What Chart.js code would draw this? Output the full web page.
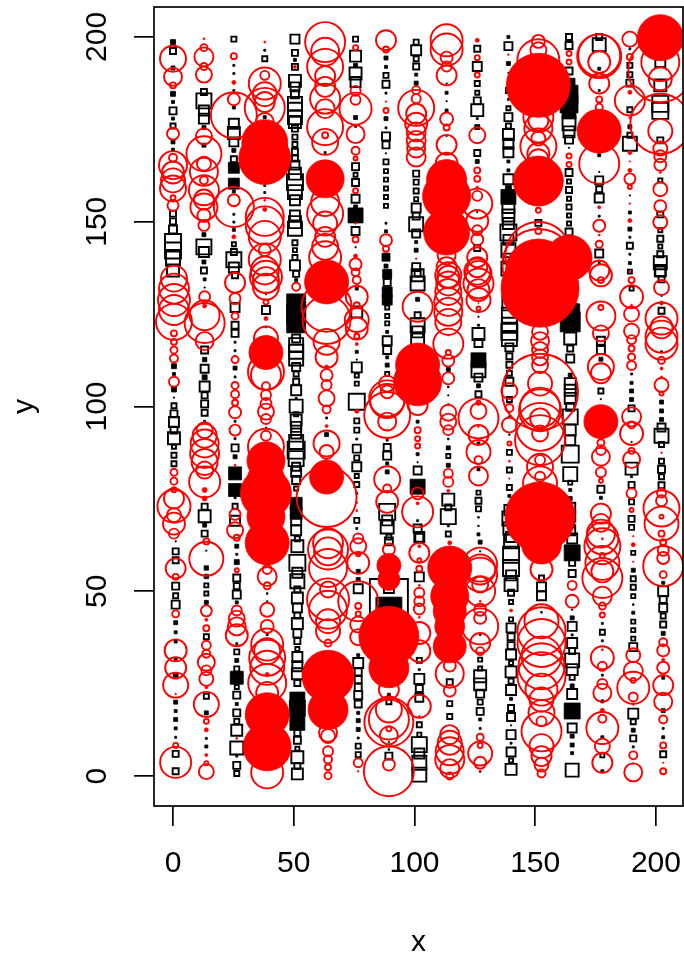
<!DOCTYPE html>
<html>
<head>
<meta charset="utf-8">
<title>x y bubbles</title>
<script src="https://cdn.jsdelivr.net/npm/chart.js@4"></script>
<style>
    html, body { margin: 0; padding: 0; background: #fff; }
    canvas { display: block; }
</style>
</head>
<body>
<canvas id="chart" width="684" height="956"></canvas>
<script>
const xTicks = [0, 50, 100, 150, 200];
const yTicks = [0, 50, 100, 150, 200];

// each column drifts a little in x from top to bottom of the plot
const columnXTop = [0, 12.8, 25.2, 38, 50.5, 63, 75.6, 88.2, 100.7, 113.3, 126, 138.9, 151.3, 164, 176.5, 189.2, 201.8];
const columnXMid = [0.4, 13.1, 25.7, 38.5, 51, 63.6, 76.1, 88.7, 101.3, 114, 126.5, 139.3, 152, 164.5, 177.2, 189.9, 202.3];
const columnXLow = [1.1, 13.8, 26.4, 39, 51.5, 64.2, 76.7, 89.4, 102, 114.6, 127.2, 140, 152.6, 165.3, 177.8, 190.6, 203];

// one row per column, read as y, size, y, size ...
const blocks = [
    [198.6,2.5,191.6,2,184.6,2.5,182.4,1.5,177.9,1.5,171.6,2,169.5,1.5,110.9,2.5,108.8,1.5,104.6,2.5,102.4,.6,63.5,.6,41.5,2,38.9,1.5,36.4,1.5,31.7,1.5,27,2.5,20,2,17.6,1.5,15.3,2,12.9,1.5,10.5,1],
    [175.5,2,170.7,2,146.5,2,139.1,2,134.4,1.5,132.2,.6,112.7,2.2,107.9,2.5,96,1,67.9,2,61,.6,56.3,2.2,54,2.2,47,2,17.1,2,10.2,1,8,1.5],
    [192.3,1,190.1,1,185.5,1,180.9,1.5,169.3,2,164.6,5.5,160.3,5.5,158.2,1.5,152,1,149.9,1,147.8,1.5,117.4,1,115.1,1,110.4,2,108,1,96,1,91.3,1,86.4,2,81.9,6.5,77.4,6.5,75.3,1,62.2,2,60,1,57.9,2.5,47,1.5,35.8,1,31.3,2,26.6,6.5,19.5,1.5,5.4,1],
    [196.4,1,178.3,1.5,159.8,1,157.9,1,130.4,.6,121.4,.6,94.3,.6,49.4,.8,47.3,.6,38.3,1],
    [193.8,1.5,134.2,1.5,127.9,9.5,125.2,9.5,122.5,9.5,102.2,1,73.8,6,71.1,6,20.7,7.5,18.4,8,14.4,7.5],
    [168.7,1,92.4,2,96.9,1],
    [192.3,2,178.2,2,175.8,1,154,2,151.7,7.5,143.1,.6,131.9,1.5,114.8,1.5,112.7,.6,91.2,1,76.5,1,74,.6,67,1,53.2,2,55.4,2,32.7,1.5,17.1,1.5,15,2,12.6,2,10.3,1],
    [194.3,2,191.9,1.5,184.8,1,177.9,2,175.4,1,168.5,.6,149.6,1,147.4,1.5,140.4,4,138,2,135.9,4.5,135.5,4,131,5,128.8,5,120.2,1.5,113.3,1.5,111.2,2,90.9,1,84.6,1.5,82.3,2,44.9,13,22,1.5,9.2,.6,7.2,.8],
    [189.8,1.5,187.5,2,144.5,1.5,142.3,2,129,2,95.9,1.5,87.1,1.5,84.9,.6,78.3,7.5,69.1,1,28.8,1],
    [187.4,.6,184.9,1.5,182.6,.6,180.1,1.5,173.2,.6,168.4,1,110,2,105.3,.8,103,.6,100.6,.6,91.2,.8,88.8,2,84.1,2,67.7,1],
    [175.6,2,177.9,1,166.3,2,152.6,.6,124.3,.6,122,1,112.5,7.5,105.6,2,90,1.5,83,1.5,70,.8,67.7,.7,65.4,1.5,63.3,2,60.8,.6,38.2,.8,15.3,1.5,12.9,1,1.2,.8],
    [200,1.5,192.8,2,190.3,.6,183.1,1,166.3,1.5,163.9,1.5,159,3,156.7,7.5,97.2,1,92.4,.7,75.8,1.5,20.9,1.5,13.7,.6,8.9,1],
    [44.3,.8],
    [170,.6,122.9,10,126,7,125.2,9.5,108.5,2,77.4,1.5,75.1,2,187.2,6,184.5,9,181.9,9,179.7,7,60.4,8,45,.6,42.8,2,38.2,1,24.4,2,17.6,8,10.8,2,8.4,2,6.2,1.5],
    [191.4,1.5,185.5,1,168,1.5,163.5,.6,151.5,1,138.9,1,112.8,2,102,.6,75.3,1.5,41.3,1,36.6,1,27.3,1,20.2,1.5,10.5,1.5,1.3,1.5],
    [196.8,1,175.7,2,148,2,145.8,1,141.2,1,138.8,1.5,157.1,.6,108.8,1,106.4,1.5,104.2,2,101.9,2,90.4,.6,81,1,55.7,2,46.4,.8,44.2,1.5,12.4,2,7.9,1,3.4,.6,152.5,1.5],
    [130.1,1,114.8,1,101.2,2,98.8,2,96.5,2,52.3,1.5,38.6,2,26.6,1.5,17.7,2,12.9,1,10.5,1.5]
];

const boxes = [
    [196.2,3,180,3.5,175.9,2.5,152.2,3,150.1,3,147.9,4,144.5,8,142.2,8,140,7,136.8,6,100.2,2.5,98,3.5,95.8,5,93.6,3.5,91.4,6,89.1,2,86.8,2.5,84.5,2.5,60.8,3,58.4,3,51.4,3.5,48.8,2.5,46.4,4,6,3,1.3,3],
    [185.1,3,182.7,7.5,180.1,5,177.9,5,143.2,7.5,141.8,5,136.8,3,115.3,3.5,110.2,4,105.4,5,103,3,100.7,3.5,98.3,3,72.9,3,70.3,6,65.6,3,51.6,2,49.4,2,37.7,2.5,21.6,2.5],
    [199.4,2.5,176.5,5,174,6,171.6,4.5,166.9,3,143.9,2,141.8,3,139.7,7.5,137.6,5,135.5,3,126.8,4.5,122,3.5,119.8,3.5,88.8,3.5,73,2.5,69.1,5,53.6,3.5,51.4,3,49.1,4,33.6,2.5,29,2.5,24.1,2,21.9,3.5,17.1,3.5,14.8,2.5,12.4,5.5,7.6,6.5,2.9,3.5,.7,2.5],
    [194.1,2.5,126.1,4],
    [199.4,4.5,195.7,3,191.9,3,188.1,6,186.5,4.5,184.5,4,181.9,7,180.3,7,178.3,7,177,6,175.2,3,172.9,2.5,170.9,2.5,168.9,3,167.1,3,165.3,4.5,163,6,160.7,8,158,7,155.8,5,151.7,5,149.9,6,148.1,7,144.3,2.5,142.3,2,140.3,2.5,138.2,5,135.9,3,118.4,4,116.6,7,114.8,7,113,7,110.7,4,108.8,2.5,106.7,3,104.4,5,100.1,6.5,97.9,2,96.3,5.5,94.5,5,92.7,5,90.4,7,88.2,8.5,85.9,7.5,83.7,4,82.3,5,80.1,4,77.8,2,69.2,5,66.5,5,64.2,2.5,62.2,6,57.7,8,55,5,52.7,7,50.5,3,48.2,5.5,45.5,4.5,43.4,3,41.3,5.5,38.6,4,36.5,3,34.4,2,32.2,5,29.7,5,27.7,5.5,25.2,3,11.7,3,9.7,3.5,7.4,2,5.1,6,2.7,3,.6,5.5],
    [],
    [199.4,2.5,194.8,5.5,190.1,6,187.8,5,164.9,3.5,162.7,2,160.6,3.5,156.2,4,147.5,4,125.6,5.5,110.6,5,108.4,2,106.2,2,101.3,8,96.1,2.5,93.6,2.5,88.6,4,86.1,2.5,83.7,4.5,81.2,2,78.9,2.5,69.2,2.5,50.7,4.5,30.6,5,28.2,3.5,26.1,3.5,24,3.5,21.9,4,19.5,3.5,8.1,2.5,5.8,2.5],
    [189.6,2.5,187.2,3.5,173.1,4,170.8,3.5,166.2,2.5,163.7,2,161.4,2,159,2,156.7,2,154.3,2,133.6,3.5,126.8,2,124.5,2,122.5,2,117.8,4.5,115.3,4,108.8,2,88.9,3.5,86.7,4,71.5,8,69.2,5,67.4,6.5,64.7,2.5,63.5,4,50.9,5,48.2,19,20.1,2.5,5.4,3.5],
    [198.6,2.5,196.4,5,194.1,2.5,192,3,163,3,160.7,2.5,158.3,2.5,156.1,2,153.7,4.5,151.5,3.5,149.3,7,146.8,4,137.7,4,135.5,6,136,3,133.3,7,124.7,3,122,7,120.2,5.5,118,6.5,82.7,4,67,4,64.7,5,64.5,4,53.9,4.5,31.3,2.5,26.3,5,23.7,3.5,21.2,4,13.9,2.5,11.2,2,8.5,7.5,6.1,5,3.6,7,.4,7],
    [86.6,2,74.8,6,72.7,3,70.2,7.5,65.5,2.5,25.4,3,19.6,2.5,16.1,2.5],
    [196.8,3,192,4.5,187.4,2.5,184.9,2,182.7,3.5,180.2,6,175.6,2,168.6,3,142.9,3,119.6,6,117.2,4,109.8,7,107.8,4,103.3,3,76.7,2,74.5,3,72.3,2.5,31.5,2,29.1,2,27,6,24.8,6,22.3,4,20,2.5,17.5,3.5],
    [197.5,4,185.5,2.5,180.7,2,178.3,4,175.9,2.5,173.6,5.5,171.1,5,168.8,5,161.5,5,154,6,151.7,6,149.5,5.5,147.1,8,145.1,5,142.3,7,140,5,137.3,7,127.9,7,124.7,7.5,122,7.5,120.2,8,118.4,7.5,116,4,113.6,3,111.3,3,109,2.5,106.7,4,101.9,2.5,87.6,2.5,82.8,2.5,78.1,2.5,72,5,69.7,7,67,6,64.7,5,63.5,7,59.9,8,56.3,8,54.3,5,51.8,6.5,49.6,3,47.1,2,42.4,2,40.1,4.5,37.7,3.5,35.3,3.5,32.9,5,30.6,2,28.2,5.5,25.7,2.5,23.3,5,18.4,3,16,4,11.2,4.5,6.5,4.5,4.2,2,1.8,5.5],
    [149.7,3,53.6,2.5,51.2,4.5,48.8,4.5],
    [200,3,197.7,3.5,190.8,3.5,176.5,6.5,174.3,5.5,172.2,4,163.3,3.5,160.9,2,158.6,3,156.2,2,154,2.5,151.7,2,149.5,2,147.2,3.5,145,3,118.4,6,115.7,3,113,4,106.2,5.5,104.4,5.5,102.2,5.5,99.9,4,97.2,7.5,93.6,5.5,90.9,5,87.1,8.5,81.7,7,79.4,2,72.6,5,70.2,5,68.3,4,66.5,5,64.3,5,57.7,3,54.8,3.5,40.5,4.5,36,5,33.8,3,31.3,7,28.8,5.5,26.7,2.5,22.2,5,13,4.5,1.6,6.5],
    [200,3,197.9,6.5,161.2,4,158.8,3,156.4,4.5,141.4,4,117.8,4,115.3,4,104.2,2.5,77.6,3.5,38.9,2.5,5.6,2],
    [192.3,2.5,189.8,2.5,187.5,3.5,180.3,2.5,173.4,2.5,171.1,7,143.5,3,136.5,2,131.9,2,99.5,3,83.2,6,78.8,3,74.2,2.5,69.6,3,67.3,2.5,60.4,2,53.4,2.5,51.1,2.5,48.7,2,41.8,2,39.5,2,37.2,2,34.9,4,16.9,5,14.7,2.5,10.2,3],
    [193.2,5,186.9,6,181.9,8,180,8,172,3,161.2,2,152,3,147.7,2,145.4,3,143.3,2,141.2,3,138.9,6.5,136.8,5.5,136.5,5,134.4,3,125.9,3,94.3,4,92.1,7,89.7,2.5,85.2,2.5,83,3.5,81,2.5,78.7,3,50,5,47.8,3.5,45.5,4,43.3,2.5,41,3,5.9,3]
];

const rings = [
    [194.1,13,189.2,9,186.9,3,173.8,6,167.3,4,165.3,14,163.3,11,161.2,12,159,13,156.5,2.5,154.4,5.5,134.6,13,131.9,15,128.8,16,126.1,15,122.9,18,119.8,3,117.5,3,115.3,3.5,113,4,106.7,5,82.2,3.5,79.8,3.5,77.5,2.5,75.1,10,73,16.5,70.6,7,68.3,11,65.6,5,56.2,10,53.9,3,43.9,3.5,34,11,29.3,10.5,24.6,12.5,8.3,2.5,3.7,15.5],
    [197.1,3.5,194.6,9.5,192,3.5,189.8,8,173.1,8,168.4,17.5,165.7,7,163.5,14,161.2,4,158.5,15,156,10,154,13.5,151.7,6.5,149,5.5,129.7,5.5,124.7,15,122.6,20,117.7,9,93.6,8,92.1,12,90,14,87.3,14.5,85,13,82.8,8.5,79.6,15.5,63.5,3,58.8,17,44.7,5.5,40,3,35.4,4.5,33.1,4,30.8,8.5,28.6,5,26.3,7,19.4,12.5,14.8,2.5,3.5,2,1.2,7.5],
    [194.8,3,183.1,6,178.8,23,155.8,6,154,20,133.5,10,129.2,5.5,124.5,3.5,112.7,3.5,105.7,3.5,103.3,4,101,3,98.4,6,93.6,5.5,70.8,5.5,66.5,8,64.5,3,55.7,2,44.8,5,42.6,8,40.5,9,38.1,11],
    [189.6,4.5,187.4,16,184.5,12,182.4,10,180.8,20,177,9,151.3,19,149,19,145.9,16,142.3,6,139.8,16,136.8,14,135.1,16,134.2,13,132.4,13,128.3,2.5,118.4,12,109.4,18,108.5,15,105.5,4,103.1,5,100.8,5.5,98.6,8,96.6,5,92.1,5,89.1,18,55.9,4.5,54,9.5,51.5,3.5,45,7,40.5,6.5,35.6,16,33.8,13,32,18,29.3,17,25.2,19,22.5,11,1,16],
    [191.9,1,132.4,4],
    [198.6,20,196,14,191.9,18,189.4,10,186.5,10,183.3,15,180.6,9.5,175.6,18,173.4,3,171.6,13,152.2,18,155.3,14,149.5,12,145.9,10,143.2,13,140.4,16,127,25,123.4,24,117.5,13,113.4,11,108.5,6,105.8,5,102.2,8,99.2,4,90,13,87.7,7,75.5,30,63,15,61.3,20,60.8,14,56.3,19,50.5,8,47.8,21,45,19,41.9,12,39.2,12,36,3.5,11.7,9,10.8,7,6.7,5,4.5,4,2.4,3,.1,3.5],
    [197.1,2.5,185.4,5,183,5,180.6,16,173.7,9,169.2,4,167.1,2,158.4,2.5,145.2,3,138.5,6,136.3,4,134.2,4,129.7,11,127.4,3,123.4,12,121.1,11,119,2.5,64.3,5,62.2,8,60,2,57.7,11,47.3,20,46,3,43.9,2.5,41,8,37.6,8,3.6,4.5],
    [199.1,10,196.6,3,180.1,2.5,145,6,142.7,3,106.2,8,104,6.5,102.2,18,101.5,17,97.7,23,95.9,9,80.3,13,77.8,4,74.2,11,61.3,6,23.4,10,18,13,15.3,20,14.6,24.5,12.8,2.5,11,9,3.1,6,1.3,25],
    [185.6,4,183.3,4.5,180.8,18,179.2,10,176.5,11,174.3,9.5,172,9.5,169.8,9,167.5,9.5,127,15,100.4,10,93.6,3,91.3,2.5,89.3,2.5,76.5,6,71.5,15.5,60.4,10,58.4,2,56.1,3,49.6,5,47.3,5,45.2,5.5,38.7,11,33.8,11,18.9,11.5],
    [199.1,16,196.6,16,194.4,6,192,5,189.6,10,177.8,6.5,175.5,3,170.8,10,165.7,11,140.9,9,137.7,10,135.5,13,135.1,11,133.3,12,131,13,128.3,14,125.6,14,122.9,13,117,15,114.6,2.5,112.4,6,107.6,6,98.3,8,95.9,8,93.6,5,81.9,4.5,79.6,5,29.9,6,27.7,14,23.1,6,11.2,9.5,9,12,6.7,14,4.5,14.5,2,9.5,0,3.5],
    [194.4,2.5,189.7,2.5,173.4,8,163.9,3,161.6,3,157,5,154.9,15,150.2,11,147.7,5,145.2,6,140.4,10,137.7,10,135.9,13,136.5,13,133.3,15,131.5,11,128.8,12,126.5,2,101,2,98.8,8,96.8,20,92.3,10,87.7,12,85.5,4,81.2,9.5,57.2,17,54.5,17,55.9,15,51.8,8,50,15,45,6,42.8,6,40.5,18,36,10,33.8,4,10.5,3.5,8.3,2.5,6.1,12,3.6,6],
    [104.2,8,99.6,4,95,7.5,90,2],
    [198.8,6.5,196.4,8,193.7,21,178.3,15,177.4,10,175.2,14,172.5,7,170.4,18,168.4,11,166.9,10,153.1,2.5,147.5,3,141,33,138.3,36,120.2,8,117.7,9,115.3,8,113.3,8,111.2,8,106.2,12,104,38,99.7,20,99,21,96.8,10,94.5,24,92.7,8,90.9,25,85.5,5,83.7,13,81,5,79.2,17,55.9,11,41.9,17,39.2,24,36,24,32.4,20,29.7,23,27,24,23.4,16,20.7,12,17.1,13,14.8,5,12.1,20,8.1,12,5.4,10,3.1,7,.7,4],
    [195.5,2.5,193.2,2.5,167.8,2.5,165.5,2.5,51.6,4.5,47.3,6.5],
    [195,21,194.8,22,193.2,11,187.4,10,183.1,3,181,3.5,165.7,20,148.9,6,143.9,3.5,136.8,10,135.5,11,134.2,3,126.8,2.5,124.5,14.5,119.8,8,110.7,13,109,10,90.2,3.5,88.2,5,86.4,9,82.2,5,79.9,2,71,10,68.5,9,65.6,14,64.3,16,62.2,18,59.7,2.5,57.7,17,55.4,11,53.6,20,48.7,9.5,46,3.5,43.6,2.5,32,11.5,29.7,4.5,24.9,5,22.5,9,15.5,4,13,16,8.1,7.5,3.6,10],
    [199.4,7.5,194.6,3,182.8,15,161.6,5.5,159.4,2,134.2,3,129.7,11.5,125,7.5,120.4,7.5,118.1,4.5,115.7,3,113.4,3.5,111.1,4.5,97.2,9.5,95,3.5,92.7,11.5,88,3,85.7,8.5,76.5,5,72,2,32.7,7,28.4,9.5,25.9,2.5,23.9,16,21.4,4.5,5.6,4,1,9],
    [193.2,19,191,32,188.7,11.5,176.5,30,174.5,12,169.8,7,167.7,6,165.4,6,158.8,7,154.2,6,149.9,7,132.2,7.5,123.8,16,121.4,11,118.9,16,117,16,112.5,3.5,105.8,7,103.5,2,76.6,4.5,74.5,5.5,72.4,18,70.2,2,68.3,17,65.6,3,63.3,3,61.1,5.5,59,6,56.8,20,54.5,3.5,36.2,4,34,6,29.3,6,24.6,10,20.1,9,15.3,4,8.3,3,1.3,3]
];

const discs = [
    [22.2,.8],
    [199.5,1,127.2,2,77.4,2.5,75.1,2.5,42.3,1.5,24,1.5,12.5,2,5.7,1.5],
    [187.7,2,145.9,2,84.1,1,10.2,1],
    [198.6,1,171.4,23,167.1,26,155.8,1,153.3,2,123.8,2,114.6,17,85.3,19,80,19,76.5,25.5,70.2,19,63.1,22,27.5,2,16.6,22,7.9,24],
    [],
    [161.6,19,133.7,22,110.7,2,94.7,1.5,80.9,17,27,26,18,20],
    [149.6,1,140.7,2,116.9,1.5,98.7,2,71.8,1,1.3,.8],
    [182.5,.8,93.6,.8,57,12,53.2,11,37.8,30,29.3,20],
    [140,.8,111.2,22,106.7,24,73.8,1.5,62.2,1.5,51.6,1,43,1,16.2,.8],
    [161.4,20,156.9,24,147.2,23,119.3,.8,77.2,1.5,63.1,2,56.3,22,48.7,19,44.6,16.5,40.5,15,35.1,16.5],
    [199.1,2,159.2,1.5,128,.6,94.5,.8,1.2,.8,47.3,1],
    [195.2,.8,85.2,1,80.5,.7,44.8,1.5],
    [186.9,32,161,25,136.4,33,132,39,70.1,35,62.8,20],
    [140.2,23],
    [153.9,1.5,146.4,1,174.5,22,95.9,17,64.2,1,34.2,1,17.8,2],
    [185,2,178.1,1,166.3,.7,168.7,2,163.9,2,154.9,.8,150.3,2,127.4,1,136.4,1,64.9,.7,62.6,2,58,.7,19.4,1],
    [199.8,23,163.3,1,128,2,110.3,1.5,108,1,87.5,.8,31.5,1.5,3.6,.7]
];

function columnX(col, y) {
    if (y > 136) return columnXTop[col];
    if (y > 65) return columnXMid[col];
    return columnXLow[col];
}

// squares use half side as size, chart.js rect radius is half side * sqrt2
function toPoints(rows, scale) {
    const points = [];
    rows.forEach((row, col) => {
        for (let i = 0; i < row.length; i += 2) {
            points.push({ x: columnX(col, row[i]), y: row[i], r: row[i + 1] * scale });
        }
    });
    return points;
}

const boxFrame = {
    id: 'boxFrame',
    afterDraw(chart) {
        const { ctx, chartArea: a } = chart;
        ctx.save();
        ctx.strokeStyle = '#000';
        ctx.lineWidth = 1.7;
        ctx.strokeRect(a.left, a.top, a.right - a.left, a.bottom - a.top);
        ctx.restore();
    }
};

// stop the tick labels from pulling the plot area in
function noLabelPadding(scale) {
    scale.paddingLeft = 0;
    scale.paddingRight = 0;
    scale.paddingTop = 0;
    scale.paddingBottom = 0;
}

const font = { family: '"Liberation Sans", Arial, sans-serif', size: 30 };

new Chart(document.getElementById('chart'), {
    type: 'bubble',
    data: {
        datasets: [
            { data: toPoints(discs, 1), order: 1, pointStyle: 'circle', backgroundColor: '#ff0000', borderColor: '#ff0000', borderWidth: 0.8 },
            { data: toPoints(rings, 1), order: 2, pointStyle: 'circle', backgroundColor: 'transparent', borderColor: '#ff0000', borderWidth: 1.9 },
            { data: toPoints(boxes, Math.SQRT2), order: 3, pointStyle: 'rect', backgroundColor: 'transparent', borderColor: '#000', borderWidth: 1.9 },
            { data: toPoints(blocks, Math.SQRT2), order: 4, pointStyle: 'rect', backgroundColor: '#000', borderColor: '#000', borderWidth: 0.8 }
        ]
    },
    options: {
        responsive: false,
        animation: false,
        events: [],
        layout: { autoPadding: false, padding: { top: 7, right: 1, left: 0, bottom: 0 } },
        plugins: { legend: { display: false }, tooltip: { enabled: false } },
        scales: {
            x: {
                type: 'linear',
                min: -7.87,
                max: 211.2,
                afterFit(scale) { scale.height = 150; noLabelPadding(scale); },
                afterBuildTicks(scale) { scale.ticks = xTicks.map(v => ({ value: v })); },
                border: { display: false },
                grid: { drawOnChartArea: false, color: '#000', lineWidth: 1.7, tickLength: 20 },
                ticks: { color: '#000', font, padding: 20, maxRotation: 0, autoSkip: false },
                title: { display: true, text: 'x', color: '#000', font, padding: { top: 0, bottom: -5 } }
            },
            y: {
                type: 'linear',
                min: -8.1,
                max: 208.1,
                afterFit(scale) { scale.width = 154; noLabelPadding(scale); },
                afterBuildTicks(scale) { scale.ticks = yTicks.map(v => ({ value: v })); },
                border: { display: false },
                grid: { drawOnChartArea: false, color: '#000', lineWidth: 1.7, tickLength: 20 },
                ticks: { color: '#000', font, padding: 11, minRotation: 90, maxRotation: 90, crossAlign: 'center', autoSkip: false },
                title: { display: true, text: 'y', color: '#000', font, padding: { top: 7, bottom: 0 } }
            }
        }
    },
    plugins: [boxFrame]
});
</script>
</body>
</html>
